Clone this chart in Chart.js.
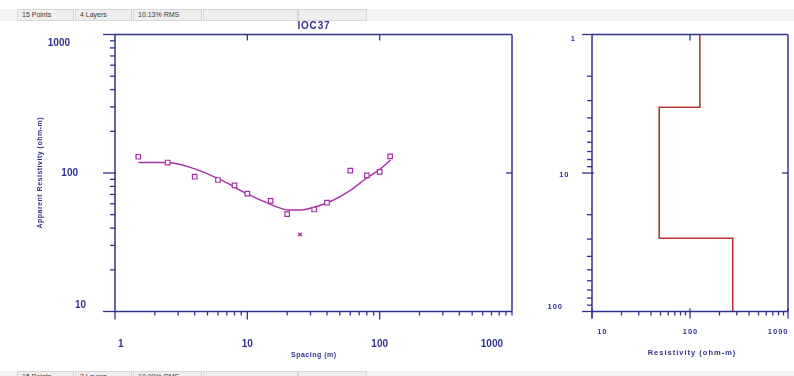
<!DOCTYPE html>
<html>
<head>
<meta charset="utf-8">
<script src="https://cdn.jsdelivr.net/npm/chart.js@4/dist/chart.umd.min.js"></script>
<style>
  html, body { margin: 0; padding: 0; background: #fff; width: 794px; height: 376px; overflow: hidden;
    font-family: "Liberation Sans", Arial, sans-serif; }
  #curve { position: absolute; left: 0; top: 0; }
  #model { position: absolute; left: 530px; top: 0; }
  .bar { position: absolute; left: 0; width: 794px; background: #f4f4f4; z-index: 2; overflow: hidden; }
  .bar span { position: absolute; top: 0; bottom: 0; box-sizing: border-box; border: 1px solid #d6d6d6;
    background: #eeeeee; color: #3a3a3a; font-size: 7px; padding-left: 4px; white-space: nowrap; }
  #statusTop { top: 9px; height: 12px; }
  #statusTop span { line-height: 10px; }
  #statusBottom { top: 371px; height: 8px; }
  #statusBottom span { line-height: 9px; }
</style>
</head>
<body>
<div class="bar" id="statusTop"></div>
<div class="bar" id="statusBottom"></div>
<canvas id="curve" width="530" height="376"></canvas>
<canvas id="model" width="264" height="376"></canvas>
<script>
// ---- sounding IOC37: measured apparent resistivity ----
const spacing   = [1.5, 2.5, 4, 6, 8, 10, 15, 20, 32, 40, 60, 80, 100, 120];
const apparentRho = [131, 119, 94, 89, 81.5, 71, 63, 50.5, 54.5, 61, 104, 96, 102, 132];
// rejected reading
const rejectedSpacing = [25];
const rejectedRho = [36];

// ---- computed response of the layered model ----
const fitSpacing = [1.5, 2.5, 3.9, 5.2, 7, 9.3, 12.5, 16.6, 20.4, 25, 31.5, 42, 60, 80, 100, 121];
const fitRho     = [119, 119, 108, 97, 85, 73, 64, 57, 54, 54, 56.5, 62, 75, 92, 106, 124];

// ---- layered model ----
const layerRho = [126, 48.5, 273];
const layerTop = [1, 3.35, 29.6];
const modelBottom = 100;

// ---- axis tick labels ----
const spacingTicks = [1, 10, 100, 1000];
const rhoTicks = [10, 100, 1000];
const depthTicks = [1, 10, 100];
const resTicks = [10, 100, 1000];

// ---- status line ----
const statusTopText = ['15 Points', '4 Layers', '10.13% RMS', '', ''];
const statusBottomText = ['15 Points', '3 Layers', '10.99% RMS', '', ''];

const NAVY = '#30328f';
const PURPLE = '#a62fa6';
const RED = '#b53434';

function fillStatus(id, texts) {
  const cells = [[17, 57], [75, 57], [133, 69], [203, 95], [298, 69]];
  const bar = document.getElementById(id);
  texts.forEach((t, i) => {
    const s = document.createElement('span');
    s.style.left = cells[i][0] + 'px';
    s.style.width = cells[i][1] + 'px';
    s.textContent = t;
    bar.appendChild(s);
  });
}
fillStatus('statusTop', statusTopText);
fillStatus('statusBottom', statusBottomText);

const clamp = (v, lo, hi) => Math.max(lo, Math.min(hi, v));

function seg(ctx, x1, y1, x2, y2) {
  ctx.beginPath(); ctx.moveTo(x1, y1); ctx.lineTo(x2, y2); ctx.stroke();
}
function text(ctx, s, x, y, font, spacingPx, align) {
  ctx.font = font;
  ctx.letterSpacing = spacingPx + 'px';
  ctx.textAlign = align || 'center';
  ctx.textBaseline = 'middle';
  // trailing letter spacing is not part of the visible glyph run
  let dx = 0;
  if (align === 'right') dx = spacingPx;
  else if (!align || align === 'center') dx = spacingPx / 2;
  ctx.fillText(s, x + dx, y);
}
function decadeMinors(lo, hi) {
  const out = [];
  for (let d = lo; d < hi; d *= 10) for (let m = 2; m <= 9; m++) out.push(d * m);
  return out;
}

// frame, ticks and labels for the sounding curve
const curveAxes = {
  id: 'curveAxes',
  afterDraw(chart) {
    const { ctx, chartArea: a, scales: { x, y } } = chart;
    ctx.save();
    ctx.strokeStyle = NAVY; ctx.fillStyle = NAVY; ctx.lineWidth = 1.5;
    seg(ctx, a.left, a.top, a.right, a.top);
    seg(ctx, a.left, a.bottom, a.right, a.bottom);
    seg(ctx, a.left, a.top, a.left, a.bottom);
    seg(ctx, a.right, a.top, a.right, a.bottom);
    ctx.lineWidth = 1.3;
    // y ticks (outward)
    rhoTicks.forEach(v => { const p = y.getPixelForValue(v); seg(ctx, a.left - 12, p, a.left + 1, p); });
    decadeMinors(10, 1000).forEach(v => { const p = y.getPixelForValue(v); seg(ctx, a.left - 5, p, a.left, p); });
    // x ticks (outward)
    spacingTicks.forEach(v => { const p = x.getPixelForValue(v); seg(ctx, p, a.bottom, p, a.bottom + (v === 1000 ? 4 : 8)); });
    decadeMinors(1, 1000).forEach(v => { const p = x.getPixelForValue(v); seg(ctx, p, a.bottom, p, a.bottom + 4); });
    // inner ticks on top and right edges
    [10, 100].forEach(v => { const p = x.getPixelForValue(v); seg(ctx, p, a.top, p, a.top + 6); });
    { const p = y.getPixelForValue(100); seg(ctx, a.right - 6, p, a.right, p); }

    // tick labels
    rhoTicks.forEach(v => {
      const s = String(v);
      const py = clamp(y.getPixelForValue(v), a.top + 8.5, a.bottom - 6.5);
      text(ctx, s, a.left - 29 - 8 * (s.length - 2), py, 'bold 10px "Liberation Sans", Arial', 0, 'right');
    });
    spacingTicks.forEach(v => {
      const s = String(v);
      ctx.font = 'bold 10px "Liberation Sans", Arial';
      const w = ctx.measureText(s).width;
      const px = clamp(x.getPixelForValue(v), a.left + 3 + w / 2, a.right - 9 - w / 2);
      text(ctx, s, px, a.bottom + 32.5, 'bold 10px "Liberation Sans", Arial', 0);
    });
    // titles
    const cx = (a.left + a.right) / 2;
    text(ctx, 'IOC37', cx, a.top - 8, 'bold 10px "Liberation Sans", Arial', 0.8);
    text(ctx, 'Spacing (m)', cx, a.bottom + 43.5, 'bold 7px "Liberation Sans", Arial', 0.5);
    ctx.save();
    ctx.translate(40.3, (a.top + a.bottom) / 2);
    ctx.rotate(-Math.PI / 2);
    text(ctx, 'Apparent Resistivity (ohm-m)', 0, 0, 'bold 7px "Liberation Sans", Arial', 0.5);
    ctx.restore();
    ctx.restore();
  }
};

// frame, ticks and labels for the layered model
const modelAxes = {
  id: 'modelAxes',
  afterDraw(chart) {
    const { ctx, chartArea: a, scales: { x, y } } = chart;
    ctx.save();
    ctx.strokeStyle = NAVY; ctx.fillStyle = NAVY; ctx.lineWidth = 1.5;
    seg(ctx, a.left, a.top, a.right, a.top);
    seg(ctx, a.left, a.bottom, a.right, a.bottom);
    seg(ctx, a.left, a.top, a.left, a.bottom);
    seg(ctx, a.right, a.top, a.right, a.bottom);
    ctx.lineWidth = 1.3;
    depthTicks.forEach(v => { const p = y.getPixelForValue(v); seg(ctx, a.left - 10, p, a.left + 2, p); });
    decadeMinors(1, 100).forEach(v => { const p = y.getPixelForValue(v); seg(ctx, a.left - 5, p, a.left, p); });
    resTicks.forEach(v => {
      if (v > x.max) return;
      const p = x.getPixelForValue(v); seg(ctx, p, a.bottom - 3, p, a.bottom + 7);
    });
    seg(ctx, a.left, a.bottom, a.left, a.bottom + 7);
    decadeMinors(10, 1000).forEach(v => {
      if (v > x.max) return;
      const p = x.getPixelForValue(v); seg(ctx, p, a.bottom, p, a.bottom + 4);
    });
    { const p = x.getPixelForValue(100); seg(ctx, p, a.top, p, a.top + 6); }
    { const p = y.getPixelForValue(10); seg(ctx, a.right - 6, p, a.right, p); }

    depthTicks.forEach(v => {
      const s = String(v);
      const py = clamp(y.getPixelForValue(v) + 2, a.top + 4, a.bottom - 5);
      text(ctx, s, a.left - 17 - 6.5 * (s.length - 1), py, 'bold 7.5px "Liberation Sans", Arial', 1, 'right');
    });
    resTicks.forEach(v => {
      const s = String(v);
      ctx.font = 'bold 7.5px "Liberation Sans", Arial';
      ctx.letterSpacing = '1px';
      const w = ctx.measureText(s).width;
      const px = clamp(x.getPixelForValue(v), a.left + 4.7 + w / 2, a.right - w / 2);
      text(ctx, s, px, a.bottom + 20.5, 'bold 7.5px "Liberation Sans", Arial', 1);
    });
    text(ctx, 'Resistivity (ohm-m)', (a.left + a.right) / 2 + 1.5, a.bottom + 41, 'bold 7.5px "Liberation Sans", Arial', 1);
    ctx.save();
    ctx.translate(538, (a.top + a.bottom) / 2);
    ctx.rotate(-Math.PI / 2);
    text(ctx, 'Depth (m)', 0, 0, 'bold 7.5px "Liberation Sans", Arial', 1);
    ctx.restore();
    ctx.restore();
  }
};

const commonOptions = {
  responsive: false,
  animation: false,
  events: [],
  plugins: { legend: { display: false }, tooltip: { enabled: false }, title: { display: false } },
};

new Chart(document.getElementById('curve'), {
  type: 'scatter',
  data: {
    datasets: [
      {
        label: 'fit',
        data: fitSpacing.map((s, i) => ({ x: s, y: fitRho[i] })),
        showLine: true, borderColor: PURPLE, borderWidth: 1.4,
        pointRadius: 0, cubicInterpolationMode: 'monotone', order: 2
      },
      {
        label: 'measured',
        data: spacing.map((s, i) => ({ x: s, y: apparentRho[i] })),
        pointStyle: 'rect', pointRadius: 3.2, borderWidth: 1.2,
        borderColor: PURPLE, backgroundColor: '#ffffff', order: 1
      },
      {
        label: 'rejected',
        data: rejectedSpacing.map((s, i) => ({ x: s, y: rejectedRho[i] })),
        pointStyle: 'crossRot', pointRadius: 2.4, borderWidth: 1.4,
        borderColor: PURPLE, order: 1
      }
    ]
  },
  options: {
    ...commonOptions,
    layout: { padding: { left: 115, right: 18, top: 34.5, bottom: 64.5 } },
    scales: {
      x: { type: 'logarithmic', min: 1, max: 1000, display: false },
      y: { type: 'logarithmic', min: 10, max: 1000, display: false }
    }
  },
  plugins: [curveAxes]
});

// stair-step profile of the layered model
const stepPoints = [];
layerRho.forEach((r, i) => {
  const bottom = i + 1 < layerTop.length ? layerTop[i + 1] : modelBottom;
  stepPoints.push({ x: r, y: layerTop[i] }, { x: r, y: bottom });
});

new Chart(document.getElementById('model'), {
  type: 'scatter',
  data: {
    datasets: [{
      label: 'model',
      data: stepPoints,
      showLine: true, borderColor: RED, borderWidth: 1.6, pointRadius: 0, tension: 0
    }]
  },
  options: {
    ...commonOptions,
    layout: { padding: { left: 62, right: 6, top: 34.5, bottom: 64.5 } },
    scales: {
      x: { type: 'logarithmic', min: 10, max: 1000, display: false },
      y: { type: 'logarithmic', min: 1, max: 100, reverse: true, display: false }
    }
  },
  plugins: [modelAxes]
});
</script>
</body>
</html>
